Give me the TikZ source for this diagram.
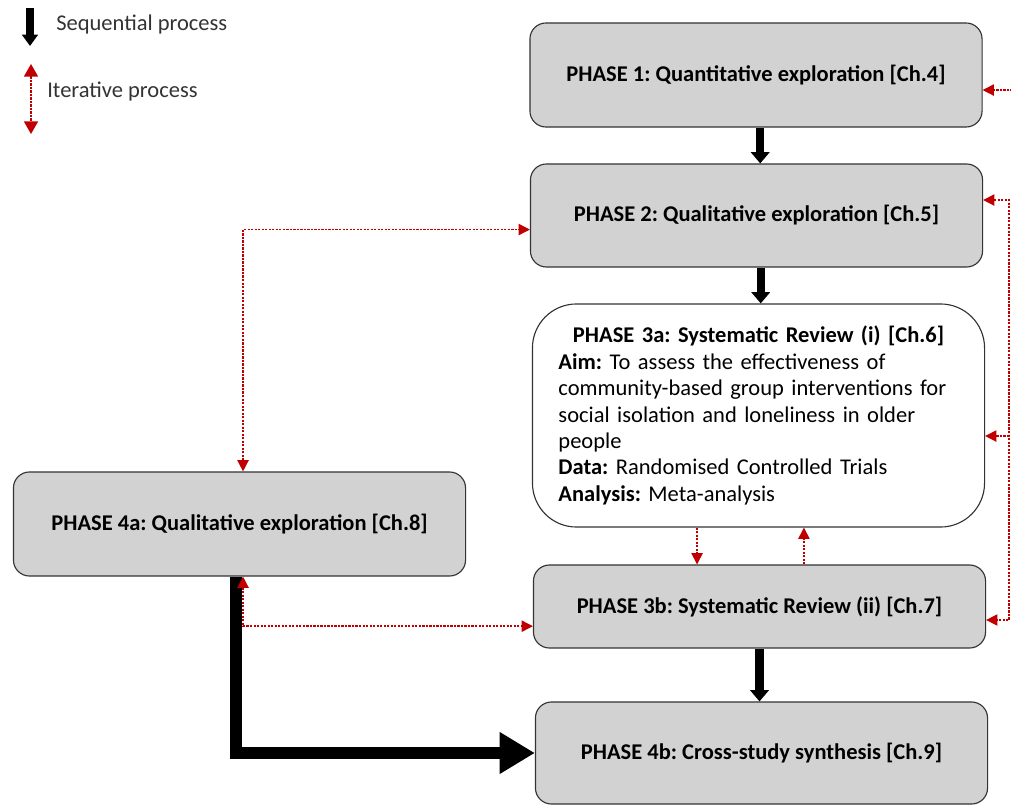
\documentclass[tikz,border=0pt]{standalone}
\usepackage{fontspec}
\setmainfont{Carlito}
\frenchspacing
\usetikzlibrary{arrows.meta}
\definecolor{boxgray}{RGB}{211,210,211}
\definecolor{iterred}{RGB}{192,0,0}
\definecolor{legendgray}{RGB}{51,51,51}

\begin{document}
\begin{tikzpicture}[x=0.025cm, y=-0.025cm,
  phase/.style={draw=black!80, line width=0.8pt, rectangle, rounded corners=0.4cm, fill=boxgray,
    minimum width=11.3cm, align=center, font=\fontsize{16}{19}\selectfont\bfseries},
  seq/.style={line width=6pt, -{Triangle[length=8pt,width=13pt]}},
  bigseq/.style={line width=8.5pt, -{Triangle[length=25pt,width=28pt]}},
  iter/.style={iterred, line width=1pt, dash pattern=on 1.6pt off 0.9pt, >={Triangle[length=8pt,width=8pt]}},
  legendtext/.style={text=legendgray, font=\fontsize{16}{19}\selectfont, anchor=west, inner sep=0pt}]
\useasboundingbox (0,0) rectangle (1011,806);

% Legend
\coordinate (seqtop) at (30,8);
\coordinate (seqbot) at (30,46);
\draw[seq, line width=5pt, -{Triangle[length=8pt,width=11pt]}] (seqtop) -- (seqbot);
\node[legendtext] (seqlbl) at (56,25) {Sequential process};
\coordinate (ittop) at (31,64);
\coordinate (itbot) at (31,134);
\draw[iter, >={Triangle[length=9pt,width=10pt]}, <->] (ittop) -- (itbot);
\node[legendtext] (itlbl) at (47,92) {Iterative process};

% Phase boxes
\node[phase, minimum height=2.6cm] (p1) at (756,75) {PHASE 1: Quantitative exploration [Ch.4]};
\node[phase, minimum height=2.575cm] (p2) at (756.5,215.5) {PHASE 2: Qualitative exploration [Ch.5]};
\node[phase, fill=white, rounded corners=1.1cm, minimum height=5.575cm, text width=10cm, align=left,
  font=\fontsize{16}{18.8}\selectfont] (p3a) at (758.5,415.5)
{\makebox[\hsize][c]{\bfseries PHASE 3a: Systematic Review (i) [Ch.6]}\\
 \textbf{Aim:} To assess the effectiveness of\\
 community-based group interventions for\\
 social isolation and loneliness in older\\
 people\\
 \textbf{Data:} Randomised Controlled Trials\\
 \textbf{Analysis:} Meta-analysis};
\node[phase, minimum height=2.075cm] (p3b) at (759.5,606.5) {PHASE 3b: Systematic Review (ii) [Ch.7]};
\node[phase, minimum height=2.6cm] (p4a) at (239.5,524) {PHASE 4a: Qualitative exploration [Ch.8]};
\node[phase, minimum height=2.55cm] (p4b) at (761.5,753) {PHASE 4b: Cross-study synthesis [Ch.9]};

% Sequential arrows
\draw[seq] ([xshift=3pt]p1.south) -- ([xshift=3pt]p1.south |- p2.north);
\draw[seq] ([xshift=3pt]p2.south) -- ([xshift=3pt]p2.south |- p3a.north);
\draw[seq] (p3b.south) -- (p3b.south |- p4b.north);
\draw[bigseq] ([xshift=-2.5pt]p4a.south) |- (p4b.west);

% Iterative arrows
\draw[iter, <->] ([xshift=2.5pt]p4a.north) |- ([yshift=-10pt]p2.west);
\draw[iter, <->] ([xshift=2.5pt]p4a.south) |- ([yshift=-14pt]p3b.west);
\draw[iter, ->] ([xshift=-43.7pt]p3a.south) -- ([xshift=-43.7pt]p3a.south |- p3b.north);
\draw[iter, ->] ([xshift=31.6pt]p3b.north) -- ([xshift=31.6pt]p3b.north |- p3a.south);
\draw[iter, <->] ([yshift=11pt]p2.east) -- ++(26,0) |- ([yshift=-9.6pt]p3b.east);
\draw[iter, ->] ([yshift=-14.6pt]p3a.east) ++(24,0) -- ([yshift=-14.6pt]p3a.east);
\draw[iter, ->] ([yshift=-10.7pt]p1.east) ++(30,0) -- ([yshift=-10.7pt]p1.east);
\end{tikzpicture}
\end{document}
